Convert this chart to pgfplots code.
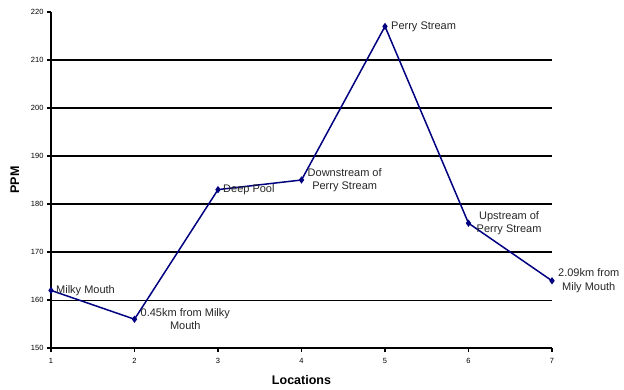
\documentclass[border=0pt]{standalone}
\usepackage{pgfplots}
\pgfplotsset{compat=1.18}
\usepackage{fontspec}
\setmainfont{Liberation Sans}
\definecolor{navyline}{RGB}{0,0,128}
\begin{document}
\begin{tikzpicture}
\useasboundingbox (0,0) rectangle (624pt,389pt);
\begin{axis}[
  at={(51pt,41pt)}, anchor=south west,
  scale only axis, width=501pt, height=336pt,
  xmin=1, xmax=7, ymin=150, ymax=220,
  axis x line*=bottom, axis y line*=left,
  axis line style={black, line width=1.6pt},
  tick align=outside, major tick length=4pt,
  tick style={black, line width=1.2pt},
  xtick={1,...,7},
  ytick={170,180,...,210},
  extra y ticks={150,160,220},
  extra y tick style={grid=none},
  ymajorgrids,
  major grid style={black, line width=1.6pt},
  /pgf/number format/assume math mode=true,
  tick label style={font=\fontsize{7.5}{9}\selectfont},
  xticklabel style={yshift=-3pt},
  xlabel={Locations}, ylabel={PPM},
  label style={font=\fontsize{12.5}{14}\selectfont\bfseries},
  xlabel style={at={(axis description cs:0.5,-0.095)}, anchor=center},
  ylabel style={at={(axis description cs:-0.072,0.5)}, anchor=center},
  clip=false,
]
\draw[black, line width=0.8pt] (axis cs:1,160) -- (axis cs:7,160);
\addplot[navyline, line width=1.5pt, mark=diamond*, mark size=2.4pt] coordinates {
  (1,162) (2,156) (3,183) (4,185) (5,217) (6,176) (7,164)
};
\begin{scope}[every node/.style={font=\fontsize{11}{13.5}\selectfont, text=black!85, align=center, inner sep=0pt}]
\node[anchor=west] at ([xshift=5pt]axis cs:1,162) {Milky Mouth};
\node[anchor=west] at ([xshift=6pt]axis cs:2,156) {0.45km from Milky\\Mouth};
\node[anchor=west] at ([xshift=5pt]axis cs:3,183) {Deep Pool};
\node[anchor=west] at ([xshift=6pt]axis cs:4,185) {Downstream of\\Perry Stream};
\node[anchor=west] at ([xshift=6pt]axis cs:5,217) {Perry Stream};
\node[anchor=west] at ([xshift=8pt]axis cs:6,176) {Upstream of\\Perry Stream};
\node[anchor=west] at ([xshift=6pt]axis cs:7,164) {2.09km from\\Mily Mouth};
\end{scope}
\end{axis}
\end{tikzpicture}
\end{document}
